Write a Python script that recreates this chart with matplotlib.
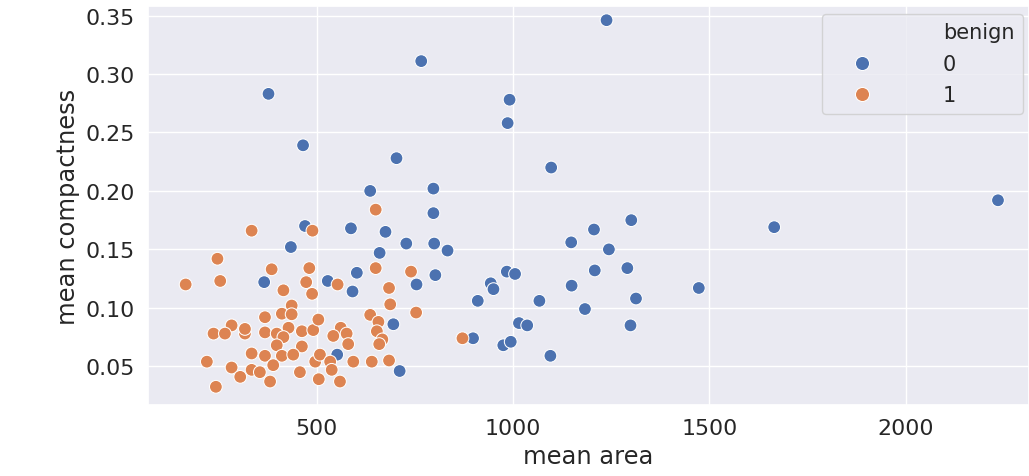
import numpy as np
import pandas as pd
import matplotlib
matplotlib.use("Agg")
import matplotlib.pyplot as plt
from matplotlib.lines import Line2D
import seaborn as sns

# malignant (benign = 0)
area_0 = [377, 766, 991, 986, 465, 703, 1097, 636, 797, 797, 470, 587, 675, 1206,
          434, 728, 799, 833, 660, 1148, 366, 528, 602, 591, 754, 802, 984, 1005,
          943, 950, 910, 1067, 1149, 1208, 1183, 695, 1015, 1036, 898, 975, 994,
          1095, 552, 711, 1238, 2235, 1301, 1665, 1244, 1291, 1473, 1313, 1299]
comp_0 = [0.283, 0.311, 0.278, 0.258, 0.239, 0.228, 0.220, 0.200, 0.202, 0.181,
          0.170, 0.168, 0.165, 0.167, 0.152, 0.155, 0.155, 0.149, 0.147, 0.156,
          0.122, 0.123, 0.130, 0.114, 0.120, 0.128, 0.131, 0.129, 0.121, 0.116,
          0.106, 0.106, 0.119, 0.132, 0.099, 0.086, 0.087, 0.085, 0.074, 0.068,
          0.071, 0.059, 0.060, 0.046, 0.346, 0.192, 0.175, 0.169, 0.150, 0.134,
          0.117, 0.108, 0.085]

# benign (benign = 1)
area_1 = [334, 489, 247, 166, 254, 385, 481, 473, 415, 488, 553, 436, 368, 411,
          436, 283, 237, 266, 317, 317, 368, 398, 428, 415, 462, 491, 504, 462,
          398, 334, 368, 411, 440, 220, 283, 305, 334, 355, 389, 381, 457, 496,
          508, 505, 243, 534, 650, 650, 740, 684, 687, 753, 636, 657, 653, 667,
          659, 561, 576, 580, 542, 593, 640, 684, 538, 559, 871]
comp_1 = [0.166, 0.166, 0.142, 0.120, 0.123, 0.133, 0.134, 0.122, 0.115, 0.112,
          0.120, 0.102, 0.092, 0.095, 0.0945, 0.085, 0.078, 0.078, 0.078, 0.082,
          0.079, 0.078, 0.083, 0.075, 0.080, 0.081, 0.090, 0.067, 0.068, 0.061,
          0.059, 0.059, 0.060, 0.054, 0.049, 0.041, 0.047, 0.045, 0.051, 0.037,
          0.045, 0.054, 0.060, 0.039, 0.0325, 0.054, 0.184, 0.134, 0.131, 0.117,
          0.103, 0.096, 0.094, 0.088, 0.080, 0.073, 0.069, 0.083, 0.078, 0.069,
          0.076, 0.054, 0.054, 0.055, 0.047, 0.037, 0.074]

df = pd.DataFrame({
    "mean area": area_0 + area_1,
    "mean compactness": comp_0 + comp_1,
    "benign": [0] * len(area_0) + [1] * len(area_1),
})

sns.set_theme(style="darkgrid", font_scale=1.45)

fig = plt.figure(figsize=(10.29, 4.77), dpi=100)
ax = fig.add_axes([0.1438, 0.149, 0.8562, 0.836])
sns.scatterplot(data=df, x="mean area", y="mean compactness", hue="benign",
                palette=["#4c72b0", "#dd8452"], s=85, ax=ax)

ax.set_xlim(70, 2314)
ax.set_ylim(0.017, 0.358)
ax.set_xticks([500, 1000, 1500, 2000])
ax.set_yticks([0.05, 0.10, 0.15, 0.20, 0.25, 0.30, 0.35])

# old-style seaborn legend: hue name as a first, handle-less entry
handles, labels = ax.get_legend_handles_labels()
blank = Line2D([], [], linestyle="none", marker=None)
ax.legend([blank] + handles, ["benign"] + labels, loc="upper right",
          bbox_to_anchor=(0.993, 0.98), borderaxespad=0, fontsize=15,
          markerscale=1.1, handletextpad=2.4, handlelength=3.0,
          borderpad=0.4, labelspacing=0.55)

fig.savefig("out.png", dpi=100)
